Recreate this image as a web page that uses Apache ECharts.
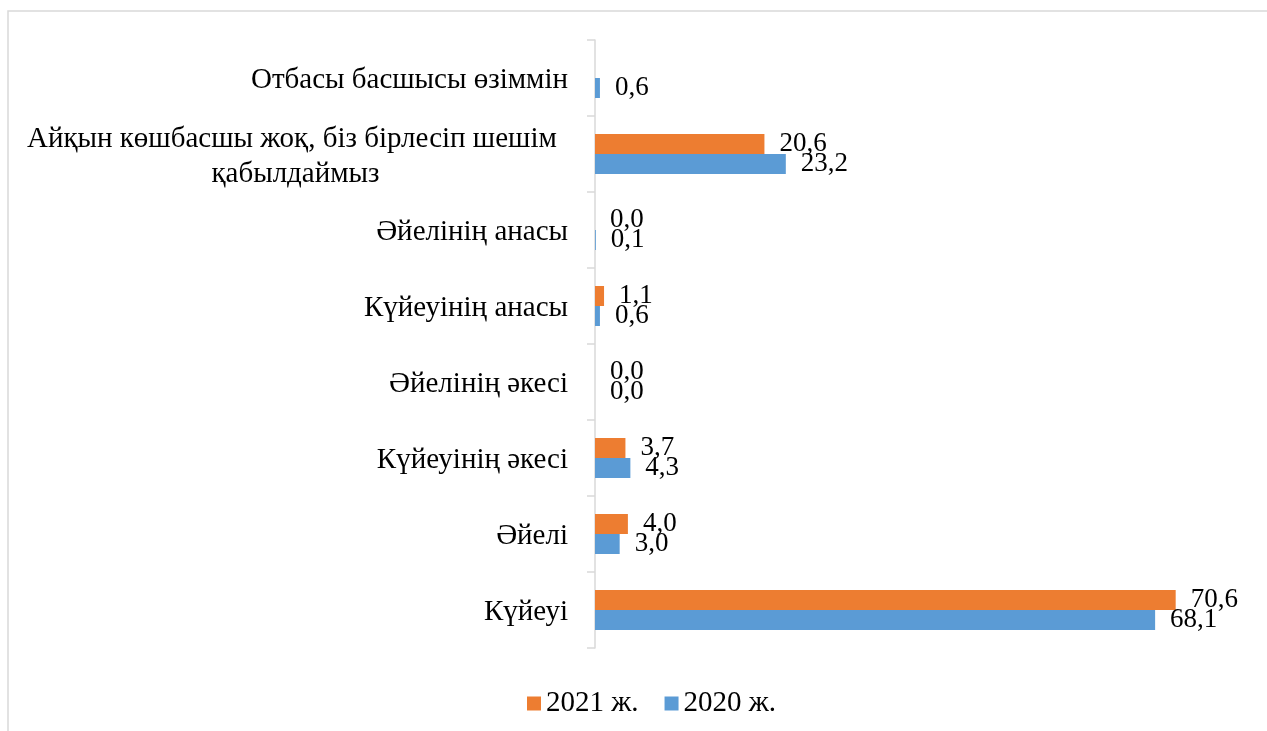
<!DOCTYPE html>
<html>
<head>
<meta charset="utf-8">
<script src="https://cdn.jsdelivr.net/npm/echarts@6/dist/echarts.min.js"></script>
<style>
    html, body { margin: 0; padding: 0; background: #ffffff; }
    #main { width: 1267px; height: 731px; }
</style>
</head>
<body>
<div id="main"></div>
<script>
    // categories, bottom to top
    var categories = [
        'Күйеуі',
        'Әйелі',
        'Күйеуінің әкесі',
        'Әйелінің әкесі',
        'Күйеуінің анасы',
        'Әйелінің анасы',
        'Айқын көшбасшы жоқ, біз бірлесіп шешім \nқабылдаймыз',
        'Отбасы басшысы өзіммін'
    ];
    var values2021 = [70.6, 4.0, 3.7, 0.0, 1.1, 0.0, 20.6, null];
    var values2020 = [68.1, 3.0, 4.3, 0.0, 0.6, 0.1, 23.2, 0.6];
    var seriesNames = ['2021 ж.', '2020 ж.'];

    var FONT = '"Liberation Serif", "Times New Roman", serif';

    function fmt(p) {
        return p.value.toFixed(1).replace('.', ',');
    }

    var labelStyle = {
        show: true,
        position: 'right',
        distance: 15,
        formatter: fmt,
        color: '#000000',
        fontFamily: FONT,
        fontSize: 27
    };

    var option = {
        animation: false,
        backgroundColor: '#ffffff',
        graphic: [{
            type: 'rect',
            shape: { x: 8, y: 11, width: 1400, height: 900 },
            style: { fill: 'none', stroke: '#d9d9d9', lineWidth: 1.5 },
            silent: true
        }],
        legend: {
            data: seriesNames,
            left: 522,
            top: 684,
            icon: 'rect',
            itemWidth: 14,
            itemHeight: 14,
            itemGap: 26,
            textStyle: { color: '#000000', fontFamily: FONT, fontSize: 29 }
        },
        grid: { left: 595, right: 14, top: 40, bottom: 83 },
        xAxis: {
            type: 'value',
            min: 0,
            max: 80,
            show: false
        },
        yAxis: {
            type: 'category',
            data: categories,
            axisLine: { lineStyle: { color: '#d9d9d9', width: 1.5 } },
            axisTick: { show: true, length: 8, lineStyle: { color: '#d9d9d9', width: 1.5 } },
            axisLabel: {
                margin: 27,
                color: '#000000',
                fontFamily: FONT,
                fontSize: 29,
                lineHeight: 35,
                padding: [5, 0, 0, 0],
                formatter: function (v) {
                    if (v.indexOf('\n') >= 0) {
                        var parts = v.split('\n');
                        return '{w|' + parts[0] + '}\n{w|' + parts[1] + '}';
                    }
                    return v;
                },
                rich: {
                    w: {
                        width: 545,
                        align: 'center',
                        color: '#000000',
                        fontFamily: FONT,
                        fontSize: 29,
                        lineHeight: 35
                    }
                }
            }
        },
        series: [
            {
                name: seriesNames[0],
                type: 'bar',
                data: values2021,
                barWidth: 20,
                barGap: '0%',
                itemStyle: { color: '#ED7D31' },
                label: labelStyle
            },
            {
                name: seriesNames[1],
                type: 'bar',
                data: values2020,
                barWidth: 20,
                barGap: '0%',
                itemStyle: { color: '#5B9BD5' },
                label: labelStyle
            }
        ]
    };

    var myChart = echarts.init(document.getElementById('main'));
    myChart.setOption(option);
</script>
</body>
</html>
